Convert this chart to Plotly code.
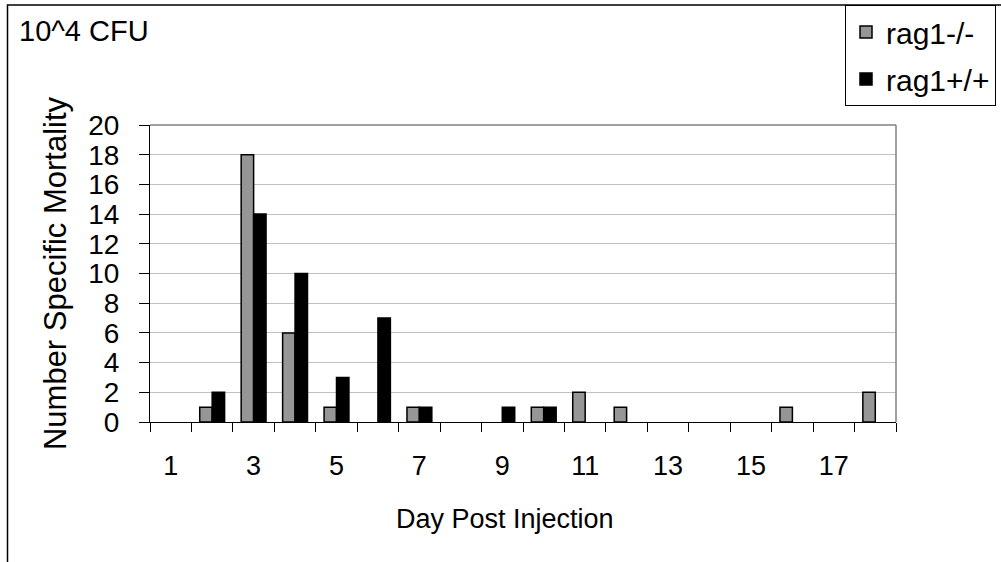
import plotly.graph_objects as go

days = list(range(1, 19))
rag1_ko = [0, 1, 18, 6, 1, 0, 1, 0, 0, 1, 2, 1, 0, 0, 0, 1, 0, 2]
rag1_wt = [0, 2, 14, 10, 3, 7, 1, 0, 1, 1, 0, 0, 0, 0, 0, 0, 0, 0]
series_names = ["rag1-/-", "rag1+/+"]
series_colors = ["#969696", "#000000"]
tick_labels = [str(d) if d % 2 == 1 else "" for d in days]
y_ticks = list(range(0, 21, 2))

FONT = "Liberation Sans, Arial, sans-serif"
W, H = 1001, 562
L, R, T, B = 150, 105, 125, 140
pw, ph = W - L - R, H - T - B


def px(x):
    return (x - L) / pw


def py(y):
    return (H - B - y) / ph


x_cat = [str(d) for d in days]
fig = go.Figure()
for name, vals, col in zip(series_names, [rag1_ko, rag1_wt], series_colors):
    # data bars (no outline on zero-height bars, as in the original chart)
    fig.add_trace(go.Bar(
        x=x_cat, y=vals, name=name, legendgroup=name, offsetgroup=name,
        showlegend=False,
        marker=dict(color=col,
                    line=dict(color="black", width=[0 if v == 0 else 1.5 for v in vals])),
    ))
    # legend entry only
    fig.add_trace(go.Bar(
        x=[None], y=[None], name=name, legendgroup=name, offsetgroup=name,
        showlegend=True, hoverinfo="skip",
        marker=dict(color=col, line=dict(color="black", width=1.5)),
    ))

fig.update_layout(
    width=W, height=H,
    margin=dict(l=L, r=R, t=T, b=B, autoexpand=False),
    paper_bgcolor="white", plot_bgcolor="white",
    barmode="group", bargap=0.40, bargroupgap=0,
    font=dict(family=FONT, size=27, color="black"),
    showlegend=True,
    legend=dict(
        x=px(845), y=py(5), xanchor="left", yanchor="top",
        bordercolor="black", borderwidth=1, bgcolor="white",
        font=dict(size=30), tracegroupgap=5,
        itemwidth=30,
    ),
    xaxis=dict(
        type="category", tickson="boundaries",
        categoryorder="array", categoryarray=x_cat,
        tickvals=x_cat, ticktext=tick_labels, tickangle=0,
        ticks="outside", ticklen=9, tickcolor="black", tickwidth=1,
        showline=True, linecolor="black", linewidth=1,
        showgrid=False, ticklabelstandoff=20,
        tickfont=dict(size=27),
        range=[-0.5, len(days) - 0.5],
    ),
    yaxis=dict(
        range=[0, 20], tickvals=y_ticks,
        ticks="outside", ticklen=10, tickcolor="black", tickwidth=1,
        showline=True, linecolor="black", linewidth=1,
        showgrid=True, gridcolor="#c0c0c0", gridwidth=1,
        zeroline=False, ticklabelstandoff=14,
        tickfont=dict(size=28),
        title=dict(text="Number Specific Mortality", standoff=12, font=dict(size=31)),
    ),
    shapes=[
        dict(type="line", xref="paper", yref="paper", x0=0, x1=1, y0=1, y1=1,
             line=dict(color="#808080", width=1.5)),
        dict(type="line", xref="paper", yref="paper", x0=1, x1=1, y0=0, y1=1,
             line=dict(color="#808080", width=1.5)),
        dict(type="rect", xref="paper", yref="paper",
             x0=px(7.5), x1=px(1020), y0=py(5), y1=py(600),
             line=dict(color="black", width=1.5), layer="below"),
    ],
    annotations=[
        dict(text="10^4 CFU", xref="paper", yref="paper", x=px(17), y=py(13),
             xanchor="left", yanchor="top", showarrow=False, font=dict(size=29)),
        dict(text="Day Post Injection", xref="paper", yref="paper",
             x=px(505), y=py(519), xanchor="center", yanchor="middle",
             showarrow=False, font=dict(size=27)),
    ],
)

fig.write_html("out.html")
